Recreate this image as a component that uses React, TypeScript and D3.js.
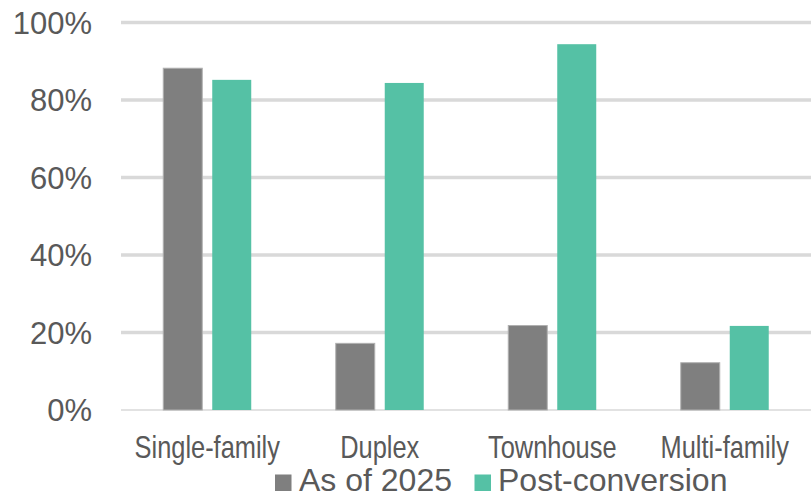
import React from 'react'
import * as d3 from 'd3'

const categories = ['Single-family', 'Duplex', 'Townhouse', 'Multi-family']
const seriesNames = ['As of 2025', 'Post-conversion']
const asOf2025 = [0.882, 0.172, 0.218, 0.122]
const postConversion = [0.852, 0.844, 0.944, 0.217]
const yTicks = [0, 0.2, 0.4, 0.6, 0.8, 1]

const colors = ['#7f7f7f', '#55c1a5']

const width = 811
const height = 495
const plotLeft = 121
const plotRight = 811
const plotTop = 22.5
const plotBottom = 410

const App = () => {
    const series = [asOf2025, postConversion]

    const x0 = d3.scaleBand()
        .domain(categories)
        .range([plotLeft, plotRight])
        .paddingInner(0.49)
        .paddingOuter(0.245)

    const x1 = d3.scaleBand()
        .domain(seriesNames)
        .range([0, x0.bandwidth()])
        .paddingInner(0.204)
        .paddingOuter(0)

    const y = d3.scaleLinear()
        .domain([0, 1])
        .range([plotBottom, plotTop])

    const fmt = d3.format('.0%')
    const font = '"Liberation Sans", Arial, sans-serif'

    return (
        <svg
            width={width}
            height={height}
            viewBox={`0 0 ${width} ${height}`}
            style={{ position: 'absolute', left: 0, top: 0, background: '#fff' }}
        >
            {yTicks.map(t => (
                <g key={t}>
                    <line
                        x1={plotLeft}
                        x2={plotRight}
                        y1={y(t)}
                        y2={y(t)}
                        stroke="#d9d9d9"
                        strokeWidth={t === 0 ? 1.5 : 3.5}
                    />
                    <text
                        x={92}
                        y={y(t) + 11}
                        textAnchor="end"
                        fontFamily={font}
                        fontSize={31}
                        fill="#595959"
                    >
                        {fmt(t)}
                    </text>
                </g>
            ))}

            {categories.map((c, i) => (
                <g key={c} transform={`translate(${x0(c)} 0)`}>
                    {series.map((vals, j) => (
                        <rect
                            key={seriesNames[j]}
                            x={x1(seriesNames[j])}
                            y={y(vals[i])}
                            width={x1.bandwidth()}
                            height={y(0) - y(vals[i])}
                            fill={colors[j]}
                            stroke={j === 0 ? '#b0b0b0' : 'none'}
                            strokeWidth={1}
                        />
                    ))}
                    <text
                        transform={`translate(${x0.bandwidth() / 2} 458) scale(0.82 1)`}
                        textAnchor="middle"
                        fontFamily={font}
                        fontSize={31}
                        fill="#595959"
                    >
                        {c}
                    </text>
                </g>
            ))}

            <g>
                <rect x={275} y={474.5} width={16.5} height={16.5} fill={colors[0]} />
                <text x={299} y={491} fontFamily={font} fontSize={32} fill="#595959">
                    {seriesNames[0]}
                </text>
                <rect x={474.5} y={474.5} width={16.5} height={16.5} fill={colors[1]} />
                <text x={498} y={491} fontFamily={font} fontSize={32} fill="#595959">
                    {seriesNames[1]}
                </text>
            </g>
        </svg>
    )
}

export default App
